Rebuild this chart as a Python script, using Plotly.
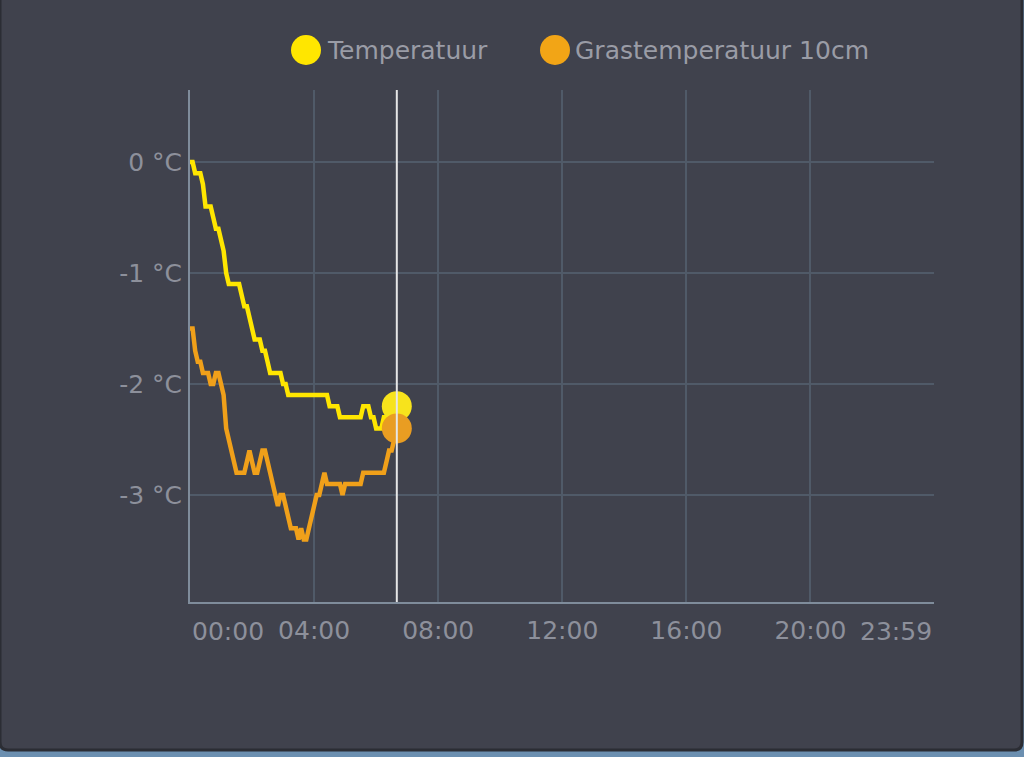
import plotly.graph_objects as go

# ---------------- data ----------------
times = [
    "00:00", "00:05", "00:10", "00:15", "00:20", "00:25", "00:30", "00:35", "00:40", "00:45", "00:50", "00:55",
    "01:00", "01:05", "01:10", "01:15", "01:20", "01:25", "01:30", "01:35", "01:40", "01:45", "01:50", "01:55",
    "02:00", "02:05", "02:10", "02:15", "02:20", "02:25", "02:30", "02:35", "02:40", "02:45", "02:50", "02:55",
    "03:00", "03:05", "03:10", "03:15", "03:20", "03:25", "03:30", "03:35", "03:40", "03:45", "03:50", "03:55",
    "04:00", "04:05", "04:10", "04:15", "04:20", "04:25", "04:30", "04:35", "04:40", "04:45", "04:50", "04:55",
    "05:00", "05:05", "05:10", "05:15", "05:20", "05:25", "05:30", "05:35", "05:40", "05:45", "05:50", "05:55",
    "06:00", "06:05", "06:10", "06:15", "06:20", "06:25", "06:30", "06:35", "06:40",
]

temperatuur = [
    0.0, 0.0, -0.1, -0.1, -0.1, -0.2, -0.4, -0.4, -0.4, -0.5, -0.6, -0.6,
    -0.7, -0.8, -1.0, -1.1, -1.1, -1.1, -1.1, -1.1, -1.2, -1.3, -1.3, -1.4,
    -1.5, -1.6, -1.6, -1.6, -1.7, -1.7, -1.8, -1.9, -1.9, -1.9, -1.9, -1.9,
    -2.0, -2.0, -2.1, -2.1, -2.1, -2.1, -2.1, -2.1, -2.1, -2.1, -2.1, -2.1,
    -2.1, -2.1, -2.1, -2.1, -2.1, -2.1, -2.2, -2.2, -2.2, -2.2, -2.3, -2.3,
    -2.3, -2.3, -2.3, -2.3, -2.3, -2.3, -2.3, -2.2, -2.2, -2.2, -2.3, -2.3,
    -2.4, -2.4, -2.4, -2.3, -2.3, -2.3, -2.3, -2.2, -2.2,
]

grastemperatuur = [
    -1.5, -1.5, -1.7, -1.8, -1.8, -1.9, -1.9, -1.9, -2.0, -2.0, -1.9, -1.9,
    -2.0, -2.1, -2.4, -2.5, -2.6, -2.7, -2.8, -2.8, -2.8, -2.8, -2.7, -2.6,
    -2.7, -2.8, -2.8, -2.7, -2.6, -2.6, -2.7, -2.8, -2.9, -3.0, -3.1, -3.0,
    -3.0, -3.1, -3.2, -3.3, -3.3, -3.3, -3.4, -3.3, -3.4, -3.4, -3.3, -3.2,
    -3.1, -3.0, -3.0, -2.9, -2.8, -2.9, -2.9, -2.9, -2.9, -2.9, -2.9, -3.0,
    -2.9, -2.9, -2.9, -2.9, -2.9, -2.9, -2.9, -2.8, -2.8, -2.8, -2.8, -2.8,
    -2.8, -2.8, -2.8, -2.8, -2.7, -2.6, -2.6, -2.5, -2.4,
]

series_names = ["Temperatuur", "Grastemperatuur 10cm"]
x_tick_labels = ["00:00", "04:00", "08:00", "12:00", "16:00", "20:00", "23:59"]
y_tick_values = [0, -1, -2, -3]
y_tick_labels = ["0 °C", "-1 °C", "-2 °C", "-3 °C"]

# ---------------- styling ----------------
CARD = "#40424d"
GRID = "#505a68"
AXIS = "#7f8c9b"
TEXT = "#8d909b"
LEGEND_TEXT = "#9a9ca6"
YELLOW = "#ffe600"
ORANGE = "#f0a01a"
FONT = "DejaVu Sans"

W, H = 1024, 757
L, R, T, B = 190, 90, 90, 155  # plot area 190..934 x 90..602
PW, PH = W - L - R, H - T - B


def px(xp):
    return (xp - L) / PW


def py(yp):
    return (H - B - yp) / PH


def to_hours(t):
    hh, mm = t.split(":")
    return int(hh) + int(mm) / 60


hours = [to_hours(t) for t in times]
x_tick_vals = [to_hours(t) for t in x_tick_labels]

fig = go.Figure()
fig.add_trace(go.Scatter(x=hours, y=temperatuur, mode="lines", name=series_names[0],
                         line=dict(color=YELLOW, width=4.5), showlegend=False))
fig.add_trace(go.Scatter(x=hours, y=grastemperatuur, mode="lines", name=series_names[1],
                         line=dict(color=ORANGE, width=4.5), showlegend=False))
fig.add_trace(go.Scatter(x=[hours[-1]], y=[temperatuur[-1]], mode="markers",
                         marker=dict(color="#f7e31c", size=30, line=dict(width=0)), showlegend=False))
fig.add_trace(go.Scatter(x=[hours[-1]], y=[grastemperatuur[-1]], mode="markers",
                         marker=dict(color="#e99d22", size=30, line=dict(width=0)), showlegend=False))

shapes = []
# card background with rounded bottom corners
x0, x1, y0, y1, r = px(0), px(1022), py(-20), py(750), 8
rx, ry = r / PW, r / PH
shapes.append(dict(
    type="path", xref="paper", yref="paper", layer="below",
    path=(f"M {x0},{y0} L {x0},{y1 + ry} Q {x0},{y1} {x0 + rx},{y1} "
          f"L {x1 - rx},{y1} Q {x1},{y1} {x1},{y1 + ry} L {x1},{y0} Z"),
    fillcolor=CARD, line=dict(color="#2b2d34", width=3)))
# current-time line
shapes.append(dict(type="line", xref="x", yref="paper", x0=hours[-1], x1=hours[-1], y0=0, y1=1,
                   line=dict(color="#e6e6e6", width=2), layer="above"))
# legend circles
for cx, col in [(306, YELLOW), (555, "#f2a516")]:
    shapes.append(dict(type="circle", xref="paper", yref="paper",
                       x0=px(cx - 15), x1=px(cx + 15), y0=py(65), y1=py(35),
                       fillcolor=col, line=dict(width=0)))

annotations = [
    dict(text=series_names[0], xref="paper", yref="paper", x=px(325), y=py(50),
         xanchor="left", yanchor="middle", showarrow=False,
         font=dict(family=FONT, size=25, color=LEGEND_TEXT)),
    dict(text=series_names[1], xref="paper", yref="paper", x=px(573), y=py(50),
         xanchor="left", yanchor="middle", showarrow=False,
         font=dict(family=FONT, size=25, color=LEGEND_TEXT)),
    dict(text=x_tick_labels[0], xref="x", yref="paper", x=x_tick_vals[0], y=py(631),
         xanchor="left", yanchor="middle", showarrow=False, xshift=0,
         font=dict(family=FONT, size=25, color=TEXT)),
    dict(text=x_tick_labels[-1], xref="x", yref="paper", x=x_tick_vals[-1], y=py(631),
         xanchor="right", yanchor="middle", showarrow=False,
         font=dict(family=FONT, size=25, color=TEXT)),
]

fig.update_layout(
    width=W, height=H,
    margin=dict(l=L, r=R, t=T, b=B, pad=0),
    paper_bgcolor="#6b8fb0",
    plot_bgcolor="rgba(0,0,0,0)",
    font=dict(family=FONT, color=TEXT, size=25),
    shapes=shapes,
    annotations=annotations,
    showlegend=False,
    hovermode=False,
    xaxis=dict(
        range=[0, x_tick_vals[-1]], tickmode="array", tickvals=x_tick_vals,
        ticktext=[""] + x_tick_labels[1:-1] + [""],
        showgrid=True, gridcolor=GRID, gridwidth=2, zeroline=False,
        showline=True, linecolor=AXIS, linewidth=2, ticks="",
        ticklabelstandoff=5, fixedrange=True,
        tickfont=dict(family=FONT, size=25, color=TEXT),
    ),
    yaxis=dict(
        range=[-3.964, 0.649], tickmode="array", tickvals=y_tick_values, ticktext=y_tick_labels,
        showgrid=True, gridcolor=GRID, gridwidth=2, zeroline=False,
        showline=True, linecolor=AXIS, linewidth=2, ticks="",
        ticklabelstandoff=1, fixedrange=True,
        tickfont=dict(family=FONT, size=25, color=TEXT),
    ),
)

fig.write_html(
    "out.html",
    config={"displayModeBar": False},
    post_script="document.body.style.margin='0px';document.body.style.overflow='hidden';"
                "document.body.style.background='#6b8fb0';",
)
